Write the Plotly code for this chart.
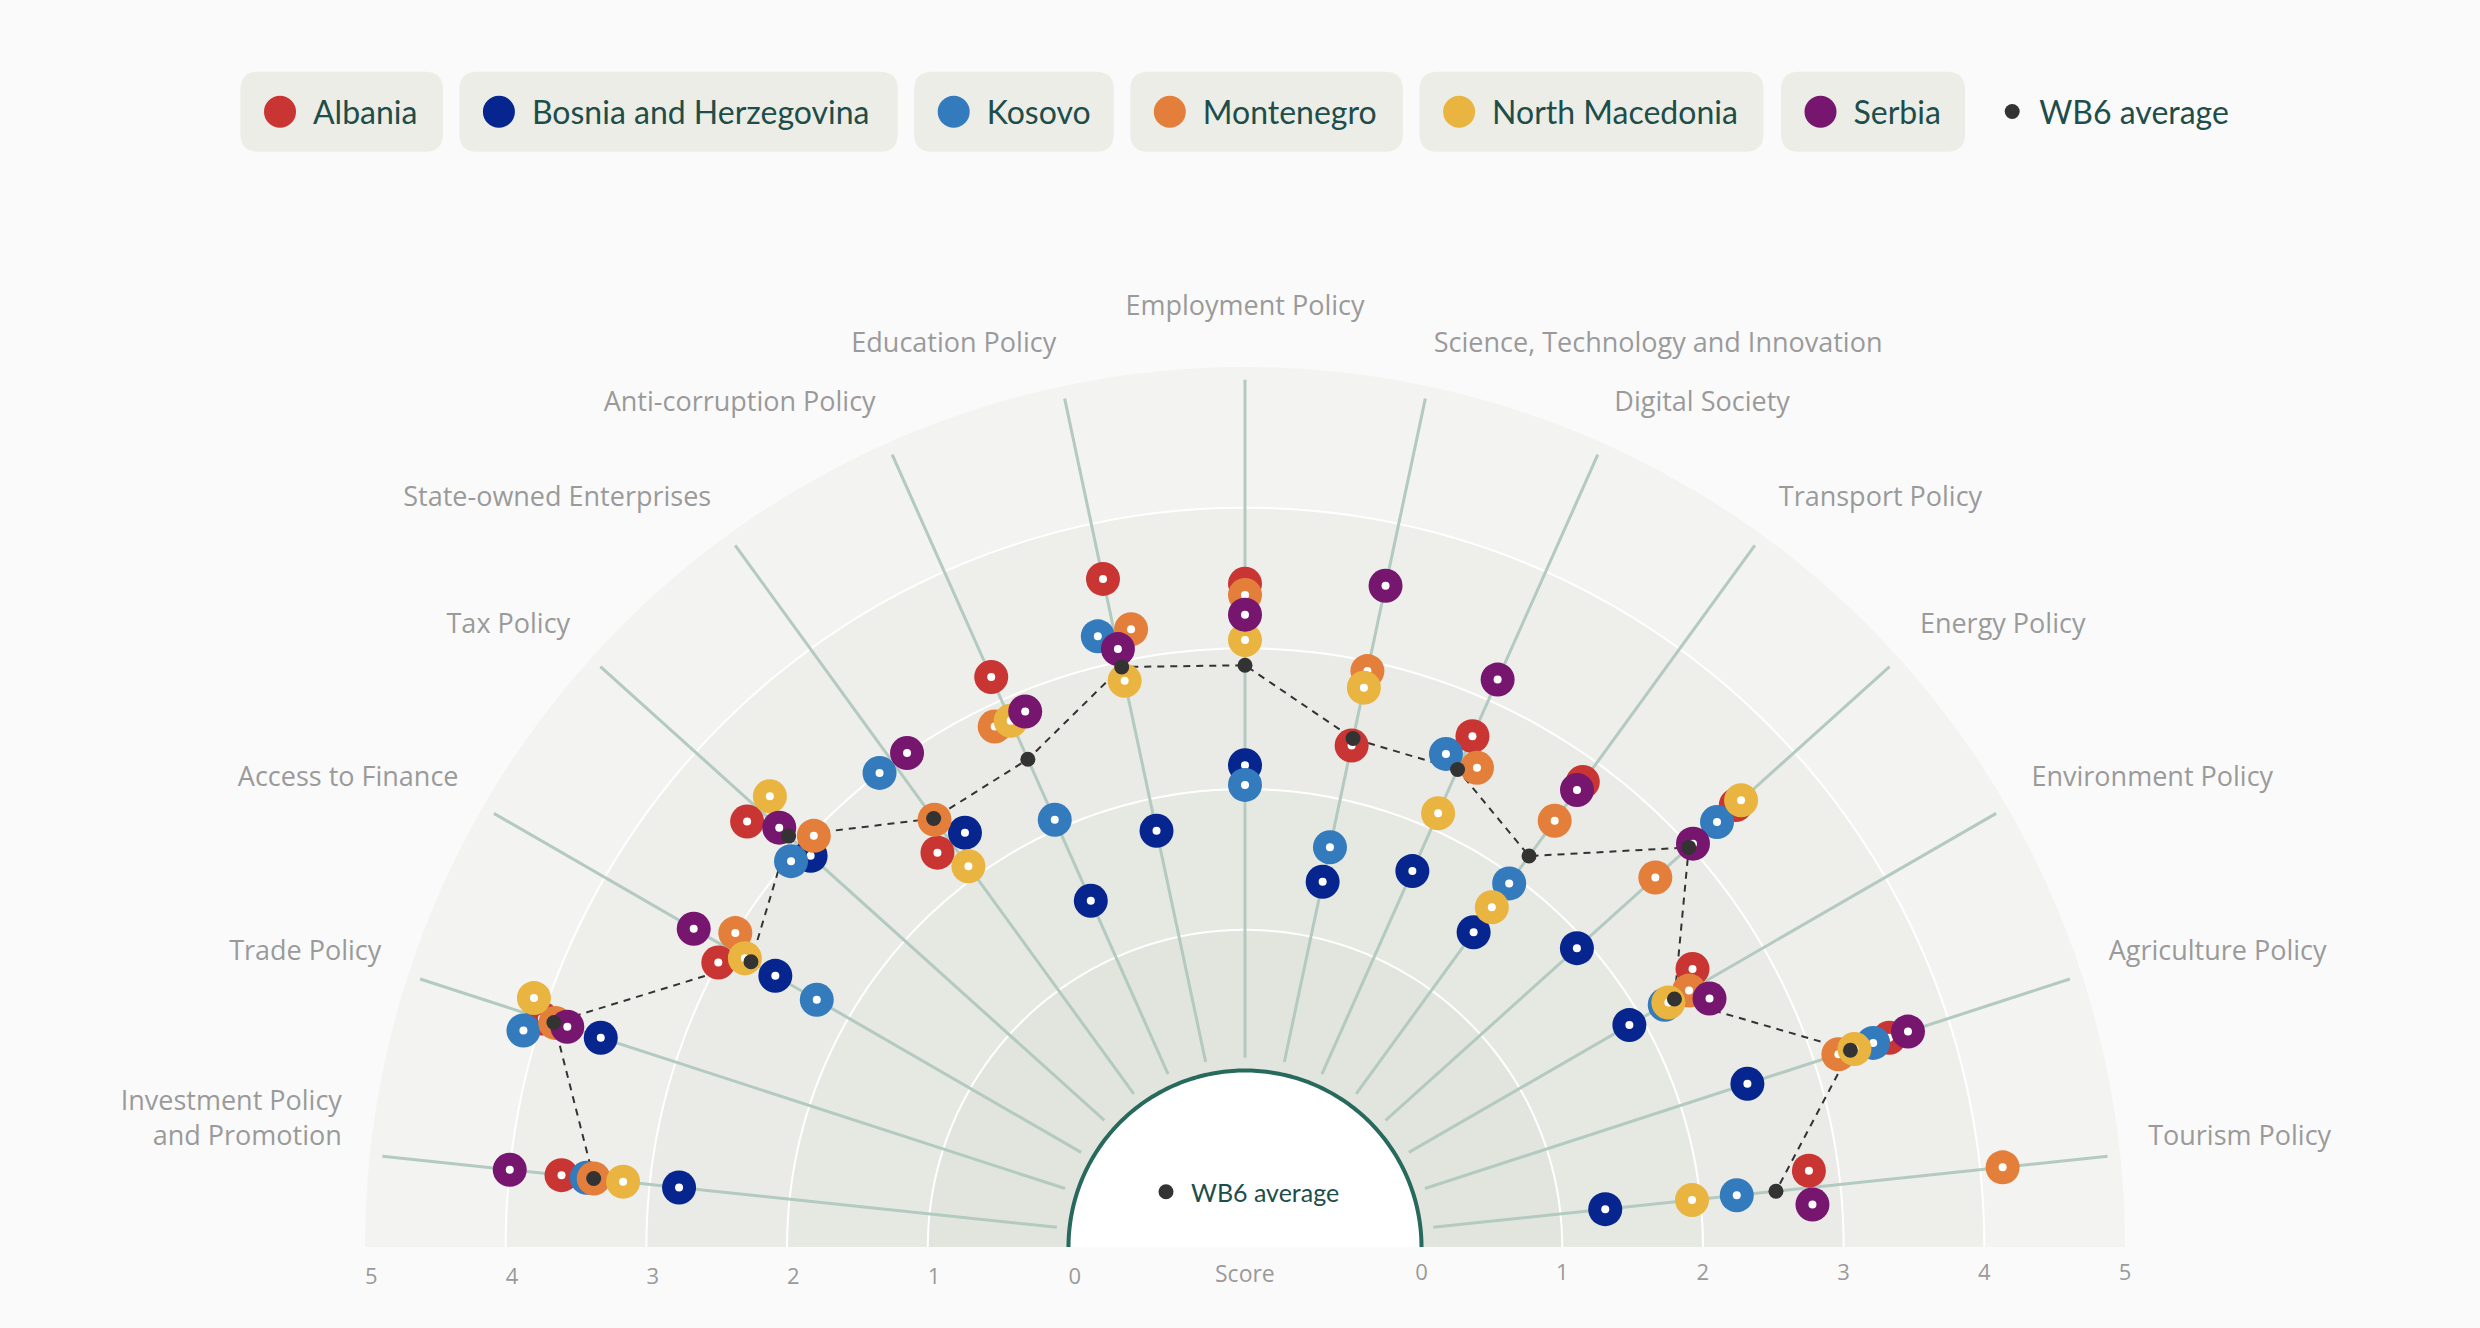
import numpy as np
import plotly.graph_objects as go

# ---------------- data ----------------
categories = [
    "Investment Policy<br>and Promotion", "Trade Policy", "Access to Finance", "Tax Policy",
    "State-owned Enterprises", "Anti-corruption Policy", "Education Policy", "Employment Policy",
    "Science, Technology and Innovation", "Digital Society", "Transport Policy", "Energy Policy",
    "Environment Policy", "Agriculture Policy", "Tourism Policy",
]
countries = ["Albania", "Bosnia and Herzegovina", "Kosovo", "Montenegro", "North Macedonia", "Serbia"]
country_colors = ["#c83532", "#06258f", "#347bbd", "#e37f3b", "#e9b440", "#77166f"]

albania = [3.63, 4.00, 3.00, 3.40, 2.30, 3.18, 3.60, 3.46, 2.39, 2.72, 2.83, 3.44, 2.49, 3.56, 2.79]
bosnia = [2.79, 3.56, 2.60, 2.90, 2.30, 1.44, 1.77, 2.17, 1.40, 1.67, 1.51, 1.92, 1.90, 2.50, 1.32]
kosovo = [3.45, 4.10, 2.26, 2.98, 3.00, 2.07, 3.21, 2.03, 1.65, 2.53, 1.94, 3.26, 2.19, 3.44, 2.26]
montenegro = [3.40, 3.90, 3.00, 2.98, 2.50, 2.85, 3.21, 3.38, 2.93, 2.53, 2.49, 2.67, 2.39, 3.18, 4.16]
north_macedonia = [3.19, 4.10, 2.85, 3.40, 2.09, 2.84, 2.86, 3.06, 2.81, 2.12, 1.73, 3.49, 2.22, 3.30, 1.94]
serbia = [4.00, 3.81, 3.27, 3.20, 3.00, 2.86, 3.09, 3.24, 3.55, 3.16, 2.76, 3.03, 2.49, 3.70, 2.79]
wb6_average = [3.40, 3.91, 2.80, 3.11, 2.51, 2.54, 2.96, 2.88, 2.44, 2.46, 2.18, 2.99, 2.27, 3.27, 2.54]

score_ticks = [0, 1, 2, 3, 4, 5]

series = [albania, bosnia, kosovo, montenegro, north_macedonia, serbia]

# ---------------- geometry / style ----------------
W, H = 2480, 1328
CX, CY = 1245.0, 1247.0
R_OUT = 880.0            # pixel radius of score 5
R_HOLE = 176.5           # pixel radius of score 0
UNIT = (R_OUT - R_HOLE) / 5.0
R_MAX = 5.4              # radial range kept a little beyond 5 so labels fit inside it
R_DOM = R_HOLE + R_MAX * UNIT
HOLE = R_HOLE / R_DOM
LABEL_R = 5.2
LABEL_R_TOP = 5.32

n_cat = len(categories)
angles = [174 - 12 * k for k in range(n_cat)]

band_colors = ["#e2e5dd", "#e6e8e2", "#eaebe6", "#eeeeeb", "#f3f3f1"]
SPOKE = "#b3cac0"
TEAL = "#27695c"
TXT = "#1e4d4a"
GREY = "#9a9a9a"

# perpendicular spreading of tied scores on one spoke
def tie_offsets(vals, tol=0.025, span_px=17.0):
    off = np.zeros((len(vals), n_cat))
    for k in range(n_cat):
        order = sorted(range(len(vals)), key=lambda c: vals[c][k])
        groups, cur = [], [order[0]]
        for c in order[1:]:
            if vals[c][k] - vals[cur[-1]][k] <= tol + 1e-9:
                cur.append(c)
            else:
                groups.append(cur)
                cur = [c]
        groups.append(cur)
        for g in groups:
            if len(g) < 2:
                continue
            g = sorted(g)
            m = len(g)
            rpx = R_HOLE + np.mean([vals[c][k] for c in g]) * UNIT
            for j, c in enumerate(g):
                d = span_px * (1 - 2.0 * j / (m - 1))
                off[c][k] = np.degrees(d / rpx)
    return off

offsets = tie_offsets(series)

fig = go.Figure()

# background bands
for k in range(5, 0, -1):
    fig.add_trace(go.Barpolar(r=[k], theta=[90], width=[180], marker_color=band_colors[k - 1],
                              marker_line_width=0, hoverinfo="skip", showlegend=False))
# white band boundaries
arc_t = np.linspace(0, 180, 241)
for k in score_ticks[1:-1]:
    fig.add_trace(go.Scatterpolar(r=[k] * len(arc_t), theta=arc_t, mode="lines",
                                  line=dict(color="#ffffff", width=2), hoverinfo="skip", showlegend=False))
# spokes
sr, st = [], []
for a in angles:
    sr += [0.09, 4.91, None]
    st += [a, a, None]
fig.add_trace(go.Scatterpolar(r=sr, theta=st, mode="lines", line=dict(color=SPOKE, width=3),
                              hoverinfo="skip", showlegend=False))
# WB6 dashed line
fig.add_trace(go.Scatterpolar(r=wb6_average, theta=angles, mode="lines",
                              line=dict(color="#333333", width=2, dash="7px,6px"),
                              hoverinfo="skip", showlegend=False))
# countries
legend_ids = ["legend", "legend2", "legend3", "legend4", "legend5", "legend6"]
for i, (name, col, vals) in enumerate(zip(countries, country_colors, series)):
    th = [a + offsets[i][k] for k, a in enumerate(angles)]
    fig.add_trace(go.Scatterpolar(r=vals, theta=th, mode="markers", name=name,
                                  marker=dict(size=34, color=col), legend=legend_ids[i],
                                  legendgroup=name, customdata=categories,
                                  hovertemplate=name + "<br>%{customdata}: %{r:.2f}<extra></extra>"))
    fig.add_trace(go.Scatterpolar(r=vals, theta=th, mode="markers",
                                  marker=dict(size=8, color="#ffffff"), legendgroup=name,
                                  showlegend=False, hoverinfo="skip"))
# WB6 average points
fig.add_trace(go.Scatterpolar(r=wb6_average, theta=angles, mode="markers", name="WB6 average",
                              marker=dict(size=15, color="#333333"), legend="legend7",
                              legendgroup="wb6"))
# category labels
pos = ["top left" if a > 90 else ("top right" if a < 90 else "top center") for a in angles]
lab_r = [LABEL_R_TOP if a == 90 else LABEL_R for a in angles]
fig.add_trace(go.Scatterpolar(r=lab_r, theta=angles, mode="text", text=categories,
                              textposition=pos, cliponaxis=False, hoverinfo="skip", showlegend=False,
                              textfont=dict(family="Open Sans", size=27, color=GREY)))
# hole legend (second polar only carries the left score axis)
fig.add_trace(go.Scatterpolar(r=[None], theta=[None], mode="markers", name="WB6 average",
                              marker=dict(size=15, color="#333333"), subplot="polar2",
                              legend="legend8", legendgroup="wb6"))

# ---------------- layout ----------------
def px(x, y):
    return x / W, 1 - y / H

dom_x = [(CX - R_DOM) / W, (CX + R_DOM) / W]
dom_y = [1 - CY / H, 1 - (CY - R_DOM) / H]
tickfont = dict(family="Open Sans", size=22, color=GREY)

def polar_cfg(angle, side, tickangle):
    return dict(
        domain=dict(x=dom_x, y=dom_y), sector=[0, 180], hole=HOLE, bgcolor="rgba(0,0,0,0)",
        barmode="overlay",
        radialaxis=dict(range=[0, R_MAX], showline=False, showgrid=False, ticks="outside", ticklen=6,
                        tickcolor="rgba(0,0,0,0)", tickvals=score_ticks, tickfont=tickfont,
                        angle=angle, side=side, tickangle=tickangle),
        angularaxis=dict(visible=False, direction="counterclockwise", rotation=0),
    )

shapes = []
def path_from(points, close):
    s = "M " + " L ".join("%.6f,%.6f" % px(x, y) for x, y in points)
    return s + (" Z" if close else "")

t = np.linspace(0, np.pi, 181)
hole_pts = [(CX + R_HOLE * np.cos(v), CY - R_HOLE * np.sin(v)) for v in t]
shapes.append(dict(type="path", xref="paper", yref="paper", path=path_from(hole_pts, True),
                   fillcolor="#ffffff", line=dict(width=0), layer="below"))
shapes.append(dict(type="path", xref="paper", yref="paper", path=path_from(hole_pts, False),
                   fillcolor="rgba(0,0,0,0)", line=dict(color=TEAL, width=4), layer="above"))

# legend chips
box_x = [(240.5, 443.0), (459.4, 897.8), (914.2, 1113.8), (1130.3, 1402.9), (1419.6, 1763.5), (1781.0, 1965.0)]
BY0, BY1, BR = 71.7, 151.7, 18.0
LEG_Y = (BY0 + BY1) / 2
LEG_FONT = dict(family="Lato", size=32, color=TXT)

def rrect(x0, y0, x1, y1, r):
    def p(x, y):
        a, b = px(x, y)
        return "%.6f,%.6f" % (a, b)
    return ("M %s L %s Q %s %s L %s Q %s %s L %s Q %s %s L %s Q %s %s Z" % (
        p(x0 + r, y0), p(x1 - r, y0), p(x1, y0), p(x1, y0 + r), p(x1, y1 - r), p(x1, y1), p(x1 - r, y1),
        p(x0 + r, y1), p(x0, y1), p(x0, y1 - r), p(x0, y0 + r), p(x0, y0), p(x0 + r, y0)))

legends = {}
for i, (bx0, bx1) in enumerate(box_x):
    shapes.append(dict(type="path", xref="paper", yref="paper", path=rrect(bx0, BY0, bx1, BY1, BR),
                       fillcolor="#ecede7", line=dict(width=0), layer="below"))
    dcx = bx0 + 39.5
    x0, y0 = px(dcx - 16, LEG_Y - 16)
    x1, y1 = px(dcx + 16, LEG_Y + 16)
    shapes.append(dict(type="circle", xref="paper", yref="paper", x0=x0, x1=x1, y0=y1, y1=y0,
                       fillcolor=country_colors[i], line=dict(width=0), layer="below"))
    legends[legend_ids[i]] = dict(x=(dcx - 33) / W, y=1 - LEG_Y / H, xanchor="left", yanchor="middle",
                                  bgcolor="rgba(0,0,0,0)", borderwidth=0, itemwidth=56, font=LEG_FONT)
legends["legend7"] = dict(x=(2012.2 - 27) / W, y=1 - LEG_Y / H, xanchor="left", yanchor="middle",
                          bgcolor="rgba(0,0,0,0)", borderwidth=0, itemwidth=44, font=LEG_FONT)
legends["legend8"] = dict(x=(1166 - 25) / W, y=1 - 1192 / H, xanchor="left", yanchor="middle",
                          bgcolor="rgba(0,0,0,0)", borderwidth=0, itemwidth=40,
                          font=dict(family="Lato", size=25, color=TXT))

fig.update_layout(
    width=W, height=H, autosize=False, margin=dict(l=0, r=0, t=0, b=0),
    paper_bgcolor="#fafafa", plot_bgcolor="#fafafa",
    polar=polar_cfg(0, "clockwise", 0),
    polar2=polar_cfg(180, "counterclockwise", 180),
    shapes=shapes,
    annotations=[dict(text="Score", x=CX / W, y=1 - 1273 / H, xref="paper", yref="paper",
                      showarrow=False, xanchor="center", yanchor="middle",
                      font=dict(family="Open Sans", size=23, color=GREY))],
    **legends,
)

fig.write_html("out.html", include_plotlyjs=True, config={"displayModeBar": False},
               post_script="document.body.style.margin='0';document.body.style.overflow='hidden';")
